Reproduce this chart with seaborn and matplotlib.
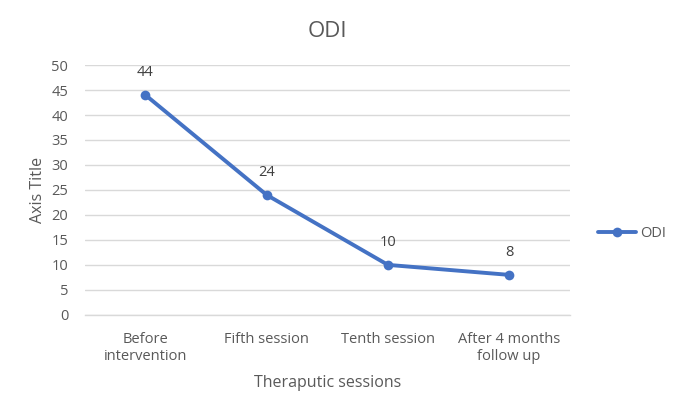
import matplotlib
matplotlib.use("Agg")
import matplotlib.pyplot as plt
import seaborn as sns
import pandas as pd

categories = ["Before\nintervention", "Fifth session", "Tenth session", "After 4 months\nfollow up"]
odi_values = [44, 24, 10, 8]
y_ticks = [0, 5, 10, 15, 20, 25, 30, 35, 40, 45, 50]

df = pd.DataFrame({"session": categories, "ODI": odi_values})

sns.set_theme(style="white")
plt.rcParams["font.family"] = ["Open Sans", "DejaVu Sans"]
text_color = "#595959"
line_color = "#4472C4"

fig = plt.figure(figsize=(6.84, 4.17), dpi=100)
ax = fig.add_axes([0.124, 0.245, 0.709, 0.599])

sns.lineplot(data=df, x="session", y="ODI", ax=ax, color=line_color, linewidth=2.8,
             marker="o", markersize=7, markeredgewidth=0, label="ODI", sort=False)

for i, v in enumerate(odi_values):
    ax.annotate(str(v), (i, v), xytext=(0, 11), textcoords="offset points",
                ha="center", va="bottom", fontsize=10.5, color="#404040")

ax.set_xlim(-0.5, len(categories) - 0.5)
ax.set_ylim(0, 50)
ax.set_yticks(y_ticks)
ax.yaxis.grid(True, color="#D9D9D9", linewidth=1)
ax.set_axisbelow(True)
for s in ["top", "right", "left"]:
    ax.spines[s].set_visible(False)
ax.spines["bottom"].set_color("#D9D9D9")
ax.spines["bottom"].set_linewidth(1)
ax.tick_params(axis="y", length=0, labelsize=10.5, colors=text_color, pad=12)
ax.tick_params(axis="x", length=0, labelsize=10.5, colors=text_color, pad=12)
ax.set_xlabel("Theraputic sessions", fontsize=11.5, color=text_color, labelpad=8)
ax.set_ylabel("Axis Title", fontsize=11.5, color=text_color, labelpad=4)
ax.set_title("ODI", fontsize=16, color=text_color, pad=20)

ax.get_legend().remove()
handles, labels = ax.get_legend_handles_labels()
fig.legend(handles, labels, loc="center left", bbox_to_anchor=(0.855, 0.44),
           frameon=False, fontsize=10.5, labelcolor=text_color, handlelength=2.6,
           handletextpad=0.3)

fig.savefig("out.png", dpi=100)
